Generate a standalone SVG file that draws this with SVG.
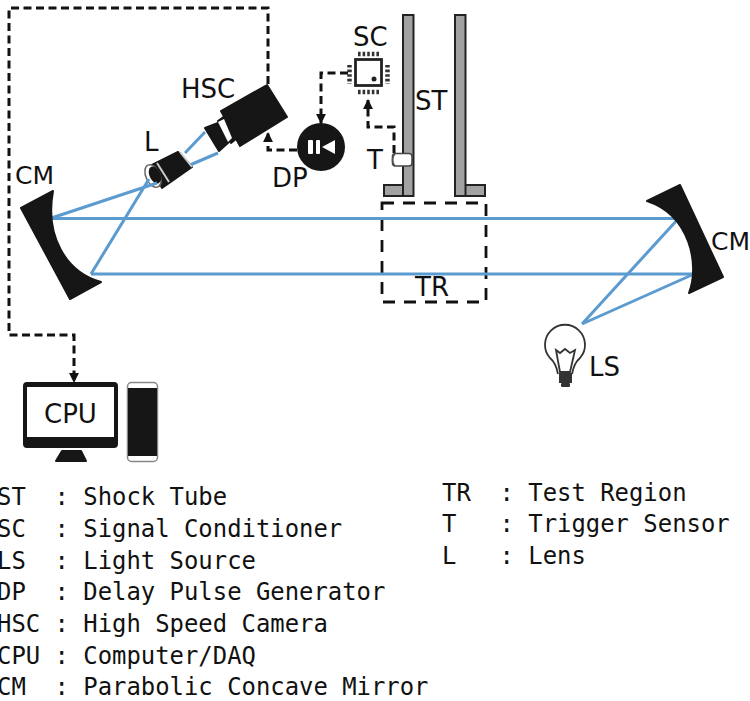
<svg xmlns="http://www.w3.org/2000/svg" width="750" height="701" viewBox="0 0 750 701">
<style>
.lb{font-family:"DejaVu Sans",Verdana,sans-serif;font-size:26px;fill:#111}
.cm{font-size:25px}
.lg{font-family:"DejaVu Sans Mono","Liberation Mono",monospace;font-size:23.9px;fill:#111;white-space:pre}
.dash{fill:none;stroke:#111;stroke-width:3;stroke-dasharray:8 4.500}
.beam{fill:none;stroke:#5b9bd0;stroke-width:3}
.dk{fill:#161616;stroke:#161616;stroke-width:2;stroke-linejoin:round}
.tube{fill:#a2a2a2;stroke:#222;stroke-width:2}
.pin{stroke:#333;stroke-width:4.500;stroke-dasharray:2.600 2;fill:none}
</style>
<defs>
<marker id="ah" viewBox="0 0 10 10" refX="9" refY="5" markerWidth="3.300" markerHeight="3.300" orient="auto-start-reverse"><path d="M0 0L10 5L0 10Z" fill="#111"/></marker>
</defs>
<rect width="750" height="701" fill="#fff"/>
<g id="shock-tube">
<rect class="tube" x="384" y="185" width="29" height="11"/>
<rect class="tube" x="456" y="185" width="29" height="11"/>
<rect class="tube" x="403" y="15" width="10.500" height="181"/>
<rect class="tube" x="455" y="15" width="10.500" height="181"/>
<text class="lb" x="415" y="110">ST</text>
</g>
<g id="test-region">
<rect x="382" y="203" width="104" height="99" fill="none" stroke="#111" stroke-width="2.800" stroke-dasharray="12 9"/>
<text class="lb" x="415" y="296">TR</text>
</g>
<g id="trigger">
<rect x="392.500" y="153.500" width="19.500" height="12.500" rx="3" fill="#fff" stroke="#444" stroke-width="1.600"/>
<path d="M395 153.500Q390 160 395 166" fill="none" stroke="#555" stroke-width="1.600"/>
<text class="lb" x="367" y="169">T</text>
</g>
<g id="signal-conditioner">
<rect x="355.500" y="59.500" width="26" height="26" fill="#fff" stroke="#222" stroke-width="2.800"/>
<circle cx="374" cy="79" r="2.500" fill="#222"/>
<path class="pin" d="M358 54H381M358 92H381M349.500 65V84M387.500 65V84"/>
<text class="lb" x="353" y="46">SC</text>
</g>
<g id="beams">
<path class="beam" d="M50 218.500H678M91 274H694M205 132L185 153M218 153L190 165"/>
</g>
<g id="camera">
<path class="dk" d="M221 111L267 85L287 117L240 146Z"/>
<path class="dk" d="M218 121L229 113L241 135L231 143Z"/>
<path class="dk" d="M205 128L218 123L229 142L219 151Z"/>
<path d="M218 122L224 119L232 138L228 142Z" fill="#fff"/>
<text class="lb" x="181" y="98">HSC</text>
</g>
<g id="lens">
<path class="dk" d="M152 165L178 152L192 167L162 188Z"/>
<path d="M157 163L169 182M180 152L192 167" fill="none" stroke="#ccc" stroke-width="2"/>
<ellipse cx="153" cy="176" rx="7" ry="12" transform="rotate(-25 153 176)" fill="#fff" stroke="#666" stroke-width="1.500"/>
<ellipse cx="155" cy="175" rx="4.500" ry="8" transform="rotate(-25 155 175)" class="dk"/>
<text class="lb" x="144" y="151">L</text>
</g>
<g id="beams-front">
<path class="beam" d="M50 218.500L157 183M91 274L149 179M678 219L582 324M694 274L582 324"/>
</g>
<g id="delay-pulse">
<circle cx="321" cy="147" r="24" fill="#161616"/>
<rect x="308" y="140" width="5" height="14" rx="1" fill="#fff"/>
<rect x="316" y="140" width="4" height="14" rx="1" fill="#fff"/>
<path d="M335 140L322 147L335 154Z" fill="#fff"/>
<text class="lb" x="272" y="187">DP</text>
</g>
<g id="mirror-left">
<path class="dk" d="M21 208L53 191C45 235 65 272 101 282L70 299Z"/>
<text class="lb cm" x="15" y="184">CM</text>
</g>
<g id="mirror-right">
<path class="dk" d="M647 201L680 185L723 277L689 293C700 265 690 215 647 201Z"/>
<text class="lb cm" x="711" y="250">CM</text>
</g>
<g id="light-source">
<path d="M558 374Q556 363 550 358A20 20 0 1 1 580 358Q574 363 572 374" fill="#fff" stroke="#333" stroke-width="1.800"/>
<path d="M556 350L560 353L565 349L570 353L575 350L570 372H560Z" fill="#fff" stroke="#333" stroke-width="1.800"/>
<rect x="559" y="373" width="13" height="10" fill="#333"/>
<rect x="561" y="383" width="9" height="4" rx="1" fill="#333"/>
<text class="lb" x="589" y="376">LS</text>
</g>
<g id="cpu">
<rect x="24" y="383" width="93" height="64" rx="3" class="dk"/>
<rect x="27" y="387" width="87" height="50" fill="#fff"/>
<path d="M62 451H81L86 461H56Z" class="dk"/>
<rect x="127.500" y="382.500" width="30" height="79" rx="4" fill="#fff" stroke="#888" stroke-width="1.500"/>
<rect x="128" y="388" width="29" height="68" fill="#161616"/>
<text class="lb" x="44" y="423">CPU</text>
</g>
<g id="connectors">
<path class="dash" d="M268 84V8H9V335H74V382" marker-end="url(#ah)"/>
<path class="dash" d="M348 73H321V123" marker-end="url(#ah)"/>
<path class="dash" d="M297 150H268V133" marker-end="url(#ah)"/>
<path class="dash" d="M394 153V127H368V100" marker-end="url(#ah)"/>
</g>
<g id="legend">
<text class="lg" x="-3" y="505">ST  : Shock Tube</text>
<text class="lg" x="-3" y="537">SC  : Signal Conditioner</text>
<text class="lg" x="-3" y="569">LS  : Light Source</text>
<text class="lg" x="-3" y="600">DP  : Delay Pulse Generator</text>
<text class="lg" x="-3" y="632">HSC : High Speed Camera</text>
<text class="lg" x="-3" y="664">CPU : Computer/DAQ</text>
<text class="lg" x="-3" y="695">CM  : Parabolic Concave Mirror</text>
<text class="lg" x="442" y="501">TR  : Test Region</text>
<text class="lg" x="442" y="532">T   : Trigger Sensor</text>
<text class="lg" x="442" y="564">L   : Lens</text>
</g>
</svg>
